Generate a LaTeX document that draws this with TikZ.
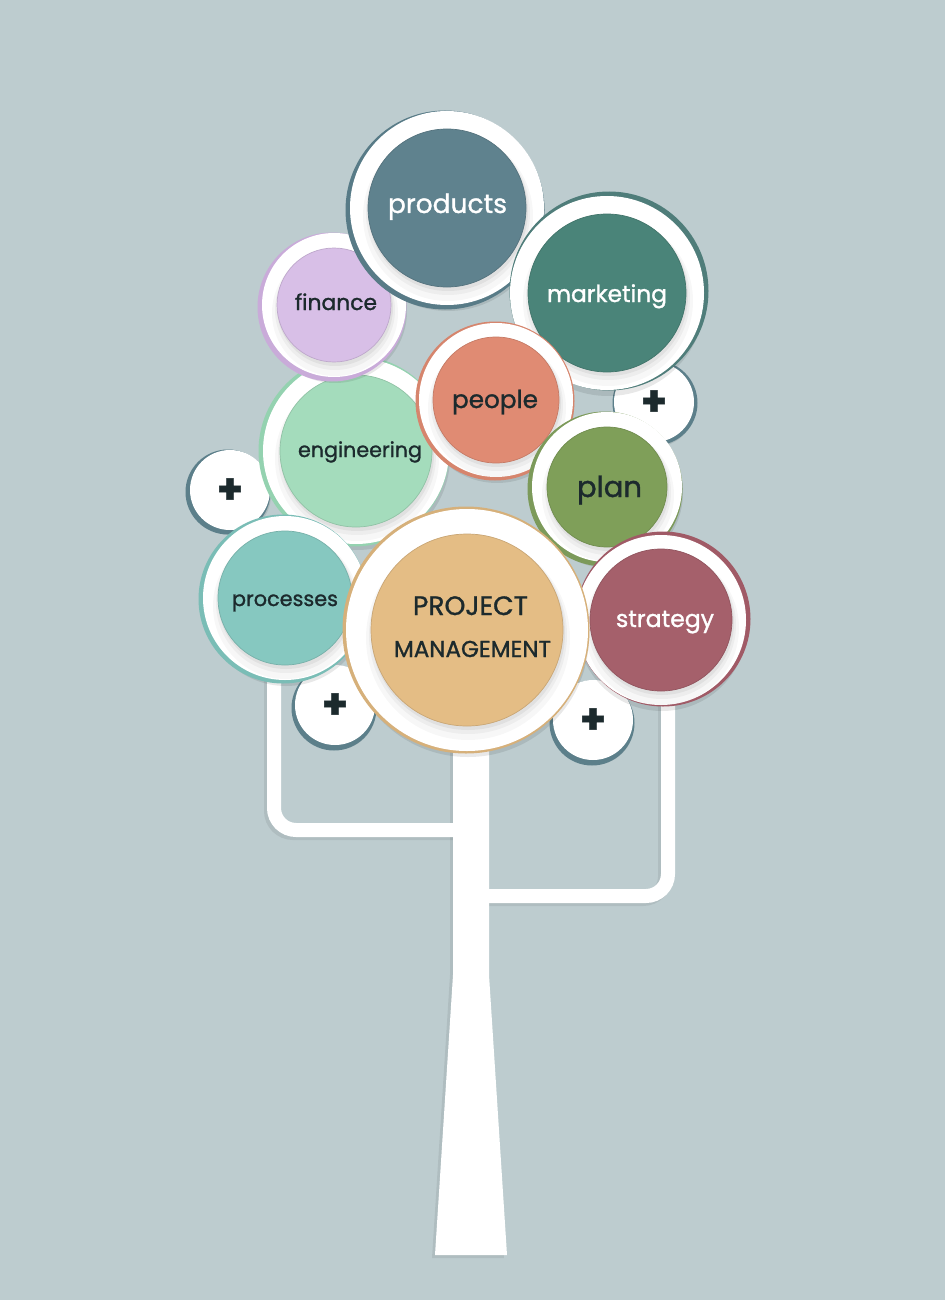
\documentclass[tikz,border=0pt]{standalone}
\usepackage{fontspec}
\setmainfont{Poppins}[FakeBold=1.2]
\usepackage{graphicx}
\definecolor{bg}{HTML}{BDCCCF}
\definecolor{txt}{HTML}{1C2A2D}
\definecolor{prodF}{HTML}{5F828E}\definecolor{prodR}{HTML}{587B87}
\definecolor{markF}{HTML}{4A8479}\definecolor{markR}{HTML}{4F7D7A}
\definecolor{finF}{HTML}{D8BFE7}\definecolor{finR}{HTML}{C9ABD9}
\definecolor{peoF}{HTML}{E08B73}\definecolor{peoR}{HTML}{D6856D}
\definecolor{engF}{HTML}{A4DCBC}\definecolor{engR}{HTML}{94D2B0}
\definecolor{plaF}{HTML}{7F9F59}\definecolor{plaR}{HTML}{7C9A5A}
\definecolor{proF}{HTML}{86C8C0}\definecolor{proR}{HTML}{7ABDB6}
\definecolor{pmF}{HTML}{E4BD85}\definecolor{pmR}{HTML}{D6B07A}
\definecolor{strF}{HTML}{A5606B}\definecolor{strR}{HTML}{A05A66}
\definecolor{plusR}{HTML}{5C7F8A}
\newcommand\fitw[2]{\resizebox{#1pt}{!}{#2}}
% name, x, y, R, r, rim colour, fill colour, rim dx, rim dy
\newcommand\bub[9]{%
  \fill[black,opacity=.09] ({#2+1},{#3+6}) circle[radius=#4];
  \fill[#6] ({#2+#8},{#3+#9}) circle[radius=#4+2.5];
  \fill[white] (#2,#3) circle[radius=#4];
  \fill[black,opacity=.03] ({#2+1},{#3+8}) circle[radius=#5+6];
  \fill[black,opacity=.04] ({#2+1},{#3+5}) circle[radius=#5+3];
  \fill[black,opacity=.05] ({#2+1},{#3+3}) circle[radius=#5+1];
  \node[circle,fill=#7,draw=#7!88!black,line width=.7,minimum size={2*#5},inner sep=0] (#1) at (#2,#3) {};
}
% name, x, y, R, rim dx, rim dy
\newcommand\plusbub[6]{%
  \fill[black,opacity=.09] ({#2+1},{#3+5}) circle[radius=#4];
  \fill[plusR] ({#2+#5},{#3+#6}) circle[radius=#4+2.5];
  \fill[white] (#2,#3) circle[radius=#4];
  \node[plussign] (#1) at (#2,{#3+1}) {+};
}
\begin{document}
\begin{tikzpicture}[x=1pt,y=-1pt,
  dtext/.style={text=txt,anchor=base,inner sep=0},
  wtext/.style={text=white,anchor=base,inner sep=0},
  plussign/.style={text=txt,inner sep=0,font=\fontsize{42}{42}\selectfont\bfseries},
  branch/.style={draw=white,line width=14,rounded corners=22},
  branchshadow/.style={draw=black,opacity=.07,line width=14,rounded corners=22}]
\fill[bg] (0,0) rectangle (945,1300);
\useasboundingbox (0,0) rectangle (945,1300);

% ---- branches and trunk ----
\coordinate (lb0) at (274,650);
\coordinate (lbc) at (274,830);
\coordinate (lb1) at (471,830);
\coordinate (rb0) at (668,690);
\coordinate (rbc) at (668,896);
\coordinate (rb1) at (471,896);
\draw[branchshadow] ([shift={(-3,3)}]lb0) -- ([shift={(-3,3)}]lbc) -- ([shift={(-3,3)}]lb1);
\draw[branchshadow] ([shift={(-3,3)}]rb0) -- ([shift={(-3,3)}]rbc) -- ([shift={(-3,3)}]rb1);
\fill[black,opacity=.07] (450,740) -- (486,740) -- (486,975) -- (504,1258) -- (432,1258) -- (450,975) -- cycle;
\draw[branch] (lb0) -- (lbc) -- (lb1);
\draw[branch] (rb0) -- (rbc) -- (rb1);
\fill[white] (453,740) -- (489,740) -- (489,975) -- (507,1255) -- (435,1255) -- (453,975) -- cycle;

% ---- plus bubbles ----
\plusbub{plusA}{654}{402}{40}{1}{1}
\plusbub{plusB}{230}{490}{40}{-2}{2}
\plusbub{plusC}{335}{705}{40}{-1}{3}
\plusbub{plusD}{593}{720}{40}{-1}{3}

% ---- main bubbles ----
\bub{engineering}{356}{451}{93}{76}{engR}{engF}{-2}{0}
\bub{finance}{334}{305}{72}{57}{finR}{finF}{-2}{2}
\bub{products}{447}{208}{97}{79}{prodR}{prodF}{-2}{2}
\bub{marketing}{607}{293}{97}{79}{markR}{markF}{2}{-2}
\bub{people}{496}{400}{77}{63}{peoR}{peoF}{-1}{1}
\bub{plan}{607}{487}{75}{60}{plaR}{plaF}{-2}{2}
\bub{processes}{285}{598}{82}{67}{proR}{proF}{-2}{1}
\bub{strategy}{661}{620}{85}{71}{strR}{strF}{2}{-1}
\bub{pm}{467}{630}{121}{96}{pmR}{pmF}{-1}{0}

% ---- labels ----
\node[wtext] (products-t) at (447.5,213) {\fitw{119}{products}};
\node[wtext] (marketing-t) at (607,302) {\fitw{120}{marketing}};
\node[dtext] (finance-t) at (336,310) {\fitw{82}{finance}};
\node[dtext] (people-t) at (495,408) {\fitw{86}{people}};
\node[dtext] (engineering-t) at (360,457) {\fitw{124}{engineering}};
\node[dtext] (plan-t) at (609.5,497) {\fitw{65}{plan}};
\node[dtext] (processes-t) at (285,606) {\fitw{106}{processes}};
\node[wtext] (strategy-t) at (665,627) {\fitw{98}{strategy}};
\node[dtext] (pm-t1) at (470.5,615) {\fitw{115}{PROJECT}};
\node[dtext] (pm-t2) at (472.5,657) {\fitw{157}{MANAGEMENT}};
\end{tikzpicture}
\end{document}
